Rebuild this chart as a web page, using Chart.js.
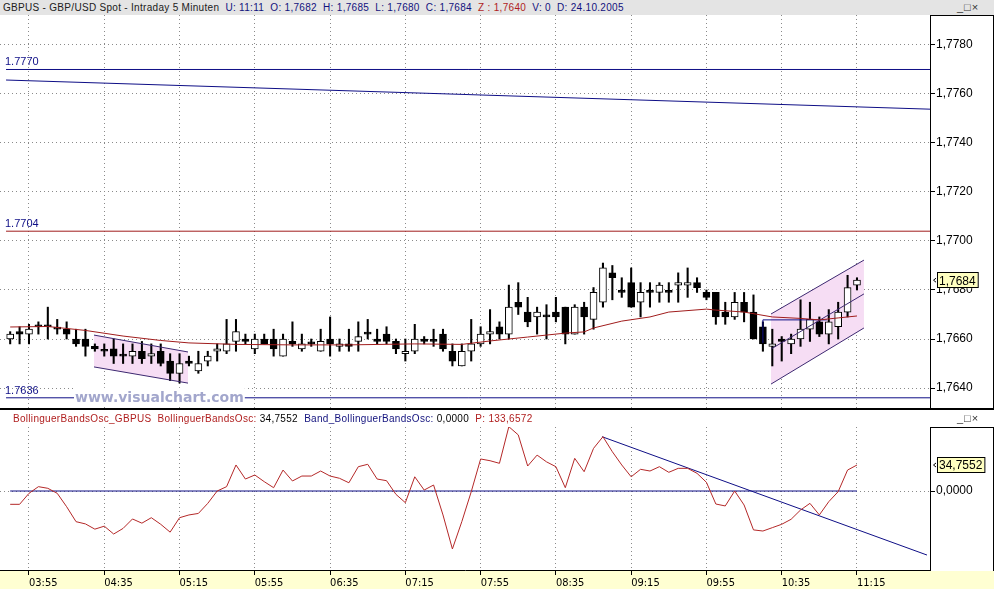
<!DOCTYPE html>
<html>
<head>
<meta charset="utf-8">
<title>GBPUS - Intraday 5 Minuten</title>
<script src="https://cdn.jsdelivr.net/npm/chart.js@4.4.1/dist/chart.umd.min.js"></script>
<style>
  body { margin: 0; width: 994px; height: 589px; overflow: hidden; background: #fff; position: relative; font-family: "Liberation Sans", Arial, sans-serif; }
  canvas { display: block; }
  .abs { position: absolute; }
  #topBar { left: 0; top: 0; width: 994px; height: 15px; background: #e4e4e4; }
  #timeBand { left: 0; top: 571px; width: 994px; height: 18px; background: #ffffd2; }
  #priceBox { left: 930px; top: 15px; width: 64px; height: 394px; border-top: 1px solid #000; border-right: 1px solid #000; box-sizing: border-box; }
  #oscBox { left: 930px; top: 427px; width: 64px; height: 144px; border-top: 1px solid #000; border-right: 1px solid #000; box-sizing: border-box; }
  #split { left: 0; top: 408px; width: 994px; height: 2px; background: #000; }
  #mainWrap { left: 0; top: 15px; }
  #oscWrap { left: 0; top: 427px; }
  .head { font-size: 10px; letter-spacing: 0.3px; white-space: pre; line-height: 12px; color: #202020; }
  .nv { color: #12127e; }
  .rd { color: #b01e1e; }
  .bk { color: #000; }
  .btns { font-size: 11px; color: #333; letter-spacing: 1px; }
</style>
</head>
<body>
<div id="topBar" class="abs"></div>
<div id="timeBand" class="abs"></div>
<div id="priceBox" class="abs"></div>
<div id="oscBox" class="abs"></div>
<div id="mainWrap" class="abs"><canvas id="mainChart" width="994" height="394"></canvas></div>
<div id="oscWrap" class="abs"><canvas id="oscChart" width="994" height="162"></canvas></div>
<div id="split" class="abs"></div>
<div id="mainHead" class="abs head" style="left:3px;top:2px"></div>
<div id="oscHead" class="abs head" style="left:13px;top:413px"></div>
<div class="abs btns" style="left:957px;top:1px">_□×</div>
<div class="abs btns" style="left:957px;top:412px">_□×</div>

<script>
// 5-Minuten-Kerzen, Index 0 = 03:45 ... Index 90 = 11:15
const opens  = [1.7660,1.7663,1.7662,1.7665,1.7665,1.7664,1.7664,1.7660,1.7660,1.7657,
                1.7655,1.7656,1.7653,1.7653,1.7655,1.7653,1.7655,1.7651,1.7646,1.7651,
                1.7647,1.7651,1.7655,1.7655,1.7659,1.7660,1.7656,1.7660,1.7660,1.7653,
                1.7659,1.7656,1.7658,1.7655,1.7660,1.7657,1.7658,1.7659,1.7662,1.7660,
                1.7662,1.7659,1.7654,1.7655,1.7660,1.7659,1.7662,1.7655,1.7649,1.7655,
                1.7658,1.7662,1.7665,1.7662,1.7675,1.7671,1.7669,1.7669,1.7671,1.7673,
                1.7662,1.7673,1.7668,1.7675,1.7687,1.7679,1.7683,1.7675,1.7679,1.7679,
                1.7679,1.7682,1.7682,1.7683,1.7679,1.7679,1.7671,1.7669,1.7675,1.7671,
                1.7665,1.7657,1.7660,1.7658,1.7660,1.7664,1.7667,1.7662,1.7665,1.7671,
                1.7682];
const highs  = [1.7663,1.7665,1.7666,1.7667,1.7673,1.7668,1.7667,1.7664,1.7664,1.7658,
                1.7658,1.7660,1.7658,1.7658,1.7659,1.7658,1.7658,1.7654,1.7654,1.7653,
                1.7655,1.7655,1.7658,1.7668,1.7668,1.7662,1.7662,1.7662,1.7664,1.7662,
                1.7667,1.7662,1.7660,1.7664,1.7669,1.7660,1.7664,1.7667,1.7668,1.7664,
                1.7665,1.7660,1.7660,1.7666,1.7661,1.7664,1.7664,1.7658,1.7658,1.7668,
                1.7665,1.7672,1.7667,1.7682,1.7683,1.7677,1.7673,1.7674,1.7677,1.7673,
                1.7674,1.7675,1.7681,1.7691,1.7690,1.7685,1.7689,1.7683,1.7683,1.7683,
                1.7683,1.7687,1.7689,1.7685,1.7680,1.7679,1.7675,1.7679,1.7679,1.7678,
                1.7667,1.7664,1.7661,1.7662,1.7676,1.7675,1.7669,1.7672,1.7675,1.7686,
                1.7685];
const lows   = [1.7658,1.7658,1.7658,1.7662,1.7660,1.7662,1.7660,1.7657,1.7653,1.7655,
                1.7653,1.7650,1.7650,1.7650,1.7650,1.7650,1.7649,1.7643,1.7642,1.7649,
                1.7646,1.7649,1.7651,1.7654,1.7655,1.7658,1.7654,1.7658,1.7653,1.7653,
                1.7657,1.7655,1.7657,1.7655,1.7653,1.7655,1.7655,1.7655,1.7660,1.7658,
                1.7658,1.7654,1.7651,1.7654,1.7658,1.7657,1.7655,1.7649,1.7649,1.7651,
                1.7657,1.7658,1.7660,1.7660,1.7670,1.7665,1.7662,1.7660,1.7667,1.7658,
                1.7662,1.7662,1.7664,1.7673,1.7676,1.7677,1.7673,1.7669,1.7673,1.7675,
                1.7675,1.7675,1.7677,1.7679,1.7676,1.7666,1.7666,1.7668,1.7667,1.7660,
                1.7655,1.7649,1.7651,1.7654,1.7657,1.7659,1.7661,1.7658,1.7660,1.7669,
                1.7680];
const closes = [1.7662,1.7662,1.7664,1.7665,1.7665,1.7664,1.7662,1.7658,1.7657,1.7656,
                1.7655,1.7653,1.7653,1.7655,1.7652,1.7654,1.7650,1.7646,1.7650,1.7650,
                1.7650,1.7653,1.7656,1.7658,1.7663,1.7659,1.7660,1.7658,1.7656,1.7660,
                1.7658,1.7658,1.7658,1.7659,1.7658,1.7658,1.7657,1.7661,1.7662,1.7659,
                1.7659,1.7656,1.7655,1.7660,1.7659,1.7659,1.7656,1.7651,1.7655,1.7658,
                1.7662,1.7663,1.7662,1.7673,1.7673,1.7667,1.7671,1.7669,1.7669,1.7662,
                1.7673,1.7669,1.7679,1.7689,1.7685,1.7679,1.7673,1.7679,1.7679,1.7682,
                1.7679,1.7683,1.7683,1.7681,1.7677,1.7669,1.7669,1.7675,1.7671,1.7660,
                1.7658,1.7658,1.7659,1.7660,1.7664,1.7668,1.7662,1.7667,1.7671,1.7681,
                1.7684];

// gleitender Durchschnitt (rot)
const maIdx = [0, 4, 8, 12, 16, 19, 24, 30, 36, 43, 48, 51, 55, 59, 61, 62, 65, 68, 70, 74, 75, 78, 81, 84, 86, 88, 90];
const maVal = [1.76649, 1.76651, 1.76635, 1.76612, 1.76594, 1.76584, 1.76578, 1.76576, 1.76576, 1.76580, 1.76578,
               1.76592, 1.76608, 1.76624, 1.76629, 1.76645, 1.76673, 1.76690, 1.76710, 1.76722, 1.76718, 1.76710,
               1.76690, 1.76684, 1.76678, 1.76686, 1.76694];

// BollingerBandsOsc
const oscVals = [-17.8,-17.8,-3.1,5.8,3.6,-3.1,-21,-41,-44,-51,
                 -47,-57.5,-50,-37.4,-43,-35.7,-44.5,-55,-35.7,-32,
                 -30,-16.5,0,5.8,34.8,16,21.4,12.5,4.4,28,
                 13.4,20,20,26.7,20,17,11,32.5,35.7,16,
                 13.8,-4.5,-15.6,19,1.3,8,-32,-77.5,-41,-1,
                 42.8,40.5,37,86,75,33.4,48,39,32.5,4.4,
                 43.7,25.8,57,72.6,52.5,34.8,19,29,26.7,32.5,
                 25,30.3,30.3,23.6,11.6,-17.4,-20,0,-18.7,-52,
                 -53.5,-49,-44.5,-37.8,-25.4,-16.5,-32,-14.3,-0.9,28,34.7552];

const tickIdx = [2, 10, 18, 26, 34, 42, 50, 58, 66, 74, 82, 90];
const tickLabels = ['03:55', '04:35', '05:15', '05:55', '06:35', '07:15', '07:55', '08:35', '09:15', '09:55', '10:35', '11:15'];
const priceTicks = [1.7640, 1.7660, 1.7680, 1.7700, 1.7720, 1.7740, 1.7760, 1.7780];
const oscTicks = [0];

// Linien im Chart
const levelVals = [1.7770, 1.7704, 1.7636];
const levelSpan = [-0.44, 97.77];
const trendIdx = [-0.44, 97.77];
const trendVal = [1.77657, 1.77538];
const downChIdx = [8.91, 18.9];
const downChTop = [1.76616, 1.76547];
const downChBot = [1.76486, 1.76420];
const upChIdx = [80.86, 90.74];
const upChTop = [1.76702, 1.76922];
const upChMid = [1.76559, 1.76784];
const upChBot = [1.76416, 1.76645];
const boxIdx = [80.0, 80.0, 86.8];
const boxVal = [1.76584, 1.76678, 1.76678];
const oscBandIdx = [0, 90];
const oscTrendIdx = [62.9, 97.44];
const oscTrendVal = [72.6, -85.6];

const X_MIN = -1.082, X_MAX = 97.76;
const PRICE_MIN = 1.763143, PRICE_MAX = 1.779224;
const OSC_MIN = -105.6, OSC_MAX = 85.56;

const NAVY = '#0e0e86';
const DARKRED = '#a01c1c';
const OSCRED = '#b42828';
const PINK = '#f6ddf4';
const CHANNEL = '#3c2870';
const GRID = '#8a8a8a';

const fmt4 = v => v.toFixed(4).replace('.', ',');
const pts = (xs, ys) => xs.map((x, k) => ({x: x, y: ys[k]}));
const flat = (xs, v) => xs.map(x => ({x: x, y: v}));

function lineDs(data, color, order, extra) {
    return Object.assign({
        type: 'line', data: data, borderColor: color, borderWidth: 1,
        pointRadius: 0, tension: 0, fill: false, order: order
    }, extra || {});
}

Chart.defaults.font.family = '"Liberation Sans", Arial, sans-serif';
Chart.defaults.animation = false;

const last = closes.length - 1;

// Kopfzeilen
document.getElementById('mainHead').innerHTML =
    'GBPUS - GBP/USD Spot - Intraday 5 Minuten  <span class="nv">U: 11:11  O: ' + fmt4(opens[last]) +
    '  H: ' + fmt4(highs[last]) + '  L: ' + fmt4(lows[last]) + '  C: ' + fmt4(closes[last]) +
    '  </span><span class="rd">Z : 1,7640</span><span class="nv">  V: 0  D: 24.10.2005</span>';
document.getElementById('oscHead').innerHTML =
    '<span class="rd">BollinguerBandsOsc_GBPUS  BollinguerBandsOsc: </span><span class="bk">' + fmt4(oscVals[last]) +
    '</span>  <span class="nv">Band_BollinguerBandsOsc: </span><span class="bk">0,0000</span>  <span class="rd">P: 133,6572</span>';

function lastValueBox(chart, value) {
    const ctx = chart.ctx;
    const y = chart.scales.y.getPixelForValue(value);
    const x0 = chart.chartArea.right;
    const txt = fmt4(value);
    ctx.save();
    ctx.font = '12px "Liberation Sans"';
    const w = ctx.measureText(txt).width + 4;
    ctx.fillStyle = '#ffffc0';
    ctx.fillRect(x0 + 7, y - 8, w, 16);
    ctx.strokeStyle = '#000';
    ctx.lineWidth = 1;
    ctx.strokeRect(x0 + 7.5, Math.round(y) - 7.5, w, 15);
    ctx.fillStyle = '#000';
    ctx.textBaseline = 'middle';
    ctx.fillText(txt, x0 + 9, y + 1);
    ctx.beginPath();
    ctx.moveTo(x0 + 6, y - 2);
    ctx.lineTo(x0 + 3.5, y);
    ctx.lineTo(x0 + 6, y + 2);
    ctx.stroke();
    ctx.restore();
}

const mainDeco = {
    id: 'mainDeco',
    afterDatasetsDraw(chart) {
        const ctx = chart.ctx;
        const ys = chart.scales.y;
        ctx.save();
        ctx.font = '11px "Liberation Sans"';
        ctx.fillStyle = NAVY;
        ctx.textBaseline = 'alphabetic';
        levelVals.forEach(v => ctx.fillText(v.toFixed(4), 5, ys.getPixelForValue(v) - 4));
        // Wasserzeichen
        const wm = 'www.visualchart.com';
        ctx.font = 'bold 14px "DejaVu Sans"';
        const base = ys.getPixelForValue(levelVals[2]) + 4;
        const w = ctx.measureText(wm).width;
        ctx.fillStyle = '#fff';
        ctx.fillRect(74, base - 14, w + 2, 18);
        ctx.fillStyle = '#a2a6cc';
        ctx.fillText(wm, 75, base);
        ctx.restore();
    },
    afterDraw(chart) {
        lastValueBox(chart, closes[last]);
    }
};

const oscDeco = {
    id: 'oscDeco',
    afterDraw(chart) {
        lastValueBox(chart, oscVals[last]);
    }
};

const xGrid = {
    type: 'linear', min: X_MIN, max: X_MAX, offset: false,
    grid: {offset: false, color: GRID, lineWidth: 1, tickLength: 5, tickColor: '#000', tickBorderDash: []},
    border: {display: true, color: '#000', width: 1, dash: [1, 3]},
    afterBuildTicks: s => { s.ticks = tickIdx.map(v => ({value: v})); }
};

new Chart(document.getElementById('mainChart'), {
    type: 'bar',
    data: {
        datasets: [
            lineDs(pts(downChIdx, downChTop), 'rgba(0,0,0,0)', 10, {fill: '+1', backgroundColor: PINK}),
            lineDs(pts(downChIdx, downChBot), 'rgba(0,0,0,0)', 10),
            lineDs(pts(upChIdx, upChTop), 'rgba(0,0,0,0)', 10, {fill: '+1', backgroundColor: PINK}),
            lineDs(pts(upChIdx, upChBot), 'rgba(0,0,0,0)', 10),
            {
                type: 'bar', order: 5, grouped: false, barThickness: 1.4,
                data: lows.map((l, k) => ({x: k, y: [l, highs[k]]})),
                backgroundColor: '#000'
            },
            {
                type: 'bar', order: 4, grouped: false, barThickness: 7, minBarLength: 2,
                data: opens.map((o, k) => ({x: k, y: [o, closes[k]]})),
                backgroundColor: opens.map((o, k) => closes[k] > o ? '#fff' : '#000'),
                borderColor: '#000', borderWidth: 1, borderSkipped: false
            },
            lineDs(pts(maIdx, maVal), DARKRED, 1),
            lineDs(flat(levelSpan, levelVals[0]), NAVY, 1),
            lineDs(flat(levelSpan, levelVals[1]), DARKRED, 1),
            lineDs(flat(levelSpan, levelVals[2]), NAVY, 1),
            lineDs(pts(trendIdx, trendVal), NAVY, 1),
            lineDs(pts(downChIdx, downChTop), CHANNEL, 1),
            lineDs(pts(downChIdx, downChBot), CHANNEL, 1),
            lineDs(pts(upChIdx, upChTop), CHANNEL, 1),
            lineDs(pts(upChIdx, upChMid), CHANNEL, 1),
            lineDs(pts(upChIdx, upChBot), CHANNEL, 1),
            lineDs(pts(boxIdx, boxVal), NAVY, 1)
        ]
    },
    options: {
        responsive: false,
        events: [],
        layout: {padding: 0},
        plugins: {legend: {display: false}, tooltip: {enabled: false}},
        scales: {
            x: Object.assign({}, xGrid, {
                grid: Object.assign({}, xGrid.grid, {drawTicks: false}),
                border: {display: false, dash: [1, 3]},
                ticks: {display: false},
                afterFit: s => { s.height = 0; s.paddingLeft = 0; s.paddingRight = 0; }
            }),
            y: {
                position: 'right', min: PRICE_MIN, max: PRICE_MAX,
                grid: {color: GRID, tickLength: 5, tickColor: '#000', tickBorderDash: []},
                border: {display: true, color: '#000', dash: [1, 3]},
                ticks: {color: '#000', padding: 1, font: {size: 12}, callback: v => fmt4(v)},
                afterBuildTicks: s => { s.ticks = priceTicks.map(v => ({value: v})); },
                afterFit: s => { s.width = 64; s.paddingTop = 0; s.paddingBottom = 0; }
            }
        }
    },
    plugins: [mainDeco]
});

new Chart(document.getElementById('oscChart'), {
    type: 'line',
    data: {
        datasets: [
            lineDs(flat(oscBandIdx, 0), NAVY, 2),
            lineDs(pts(oscVals.map((v, k) => k), oscVals), OSCRED, 1),
            lineDs(pts(oscTrendIdx, oscTrendVal), NAVY, 1)
        ]
    },
    options: {
        responsive: false,
        events: [],
        layout: {padding: 0},
        plugins: {legend: {display: false}, tooltip: {enabled: false}},
        scales: {
            x: Object.assign({}, xGrid, {
                ticks: {
                    color: '#000', align: 'start', padding: 2, maxRotation: 0, autoSkip: false,
                    font: {family: '"Liberation Sans Narrow", "DejaVu Sans Condensed", "Liberation Sans"', size: 11},
                    callback: (v, k) => tickLabels[k]
                },
                afterFit: s => { s.height = 19; s.paddingLeft = 0; s.paddingRight = 0; }
            }),
            y: {
                position: 'right', min: OSC_MIN, max: OSC_MAX,
                grid: {color: GRID, tickLength: 5, tickColor: '#000', tickBorderDash: []},
                border: {display: true, color: '#000', dash: [1, 3]},
                ticks: {color: '#000', padding: 1, font: {size: 12}, callback: v => fmt4(v)},
                afterBuildTicks: s => { s.ticks = oscTicks.map(v => ({value: v})); },
                afterFit: s => { s.width = 64; s.paddingTop = 0; s.paddingBottom = 0; }
            }
        }
    },
    plugins: [oscDeco]
});
</script>
</body>
</html>
